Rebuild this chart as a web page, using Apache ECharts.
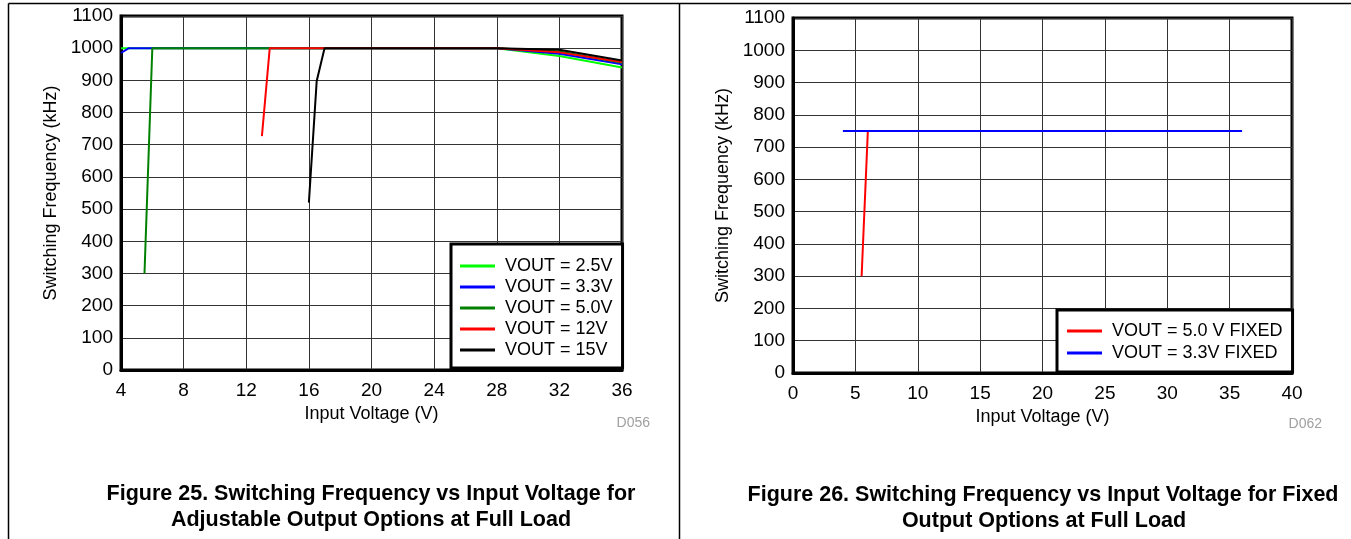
<!DOCTYPE html>
<html>
<head>
<meta charset="utf-8">
<script src="https://cdn.jsdelivr.net/npm/echarts@6/dist/echarts.min.js"></script>
<style>
  html, body { margin: 0; padding: 0; background: #fff; }
  #chart { width: 1351px; height: 539px; }
</style>
</head>
<body>
<div id="chart"></div>
<script>
// Figure 25 - adjustable outputs
const adjNames = ["VOUT = 2.5V", "VOUT = 3.3V", "VOUT = 5.0V", "VOUT = 12V", "VOUT = 15V"];
const adjColors = ["#00ff00", "#0000ff", "#008000", "#ff0000", "#000000"];
const vin2p5 = [4, 28, 32, 36];
const freq2p5 = [1000, 1000, 976, 940];
const vin3p3 = [4, 4.5, 28, 32, 36];
const freq3p3 = [985, 1000, 1000, 983, 950];
const vin5p0 = [5.5, 6, 28, 32, 36];
const freq5p0 = [300, 1000, 1000, 990, 955];
const vin12 = [13, 13.5, 28, 32, 36];
const freq12 = [727, 1000, 1000, 987, 957];
const vin15 = [16, 16.5, 17, 28, 32, 36];
const freq15 = [520, 898, 1000, 1000, 995, 962];

// Figure 26 - fixed outputs
const fixNames = ["VOUT = 5.0 V FIXED", "VOUT = 3.3V FIXED"];
const fixColors = ["#ff0000", "#0000ff"];
const vinFix5 = [5.5, 6];
const freqFix5 = [300, 750];
const vinFix3 = [4, 36];
const freqFix3 = [750, 750];

const pairs = (xs, ys) => xs.map((x, i) => [x, ys[i]]);

const font = "Liberation Sans, Arial, sans-serif";
const gridLine = { show: true, lineStyle: { color: "#333", width: 1 } };
const axLine = { show: true, onZero: false, lineStyle: { color: "#000", width: 3 } };
const plain = v => String(v);

function xAxis(idx, min, max, step) {
    return {
        gridIndex: idx, type: "value", min: min, max: max, interval: step,
        name: "Input Voltage (V)", nameLocation: "middle", nameGap: 34,
        nameTextStyle: { fontFamily: font, fontSize: 18, color: "#000" },
        axisLine: axLine, axisTick: { show: false },
        axisLabel: { fontFamily: font, fontSize: 19, color: "#000", margin: 11, formatter: plain },
        splitLine: gridLine
    };
}
function yAxis(idx) {
    return {
        gridIndex: idx, type: "value", min: 0, max: 1100, interval: 100,
        name: "Switching Frequency (kHz)", nameLocation: "middle", nameGap: 61,
        nameTextStyle: { fontFamily: font, fontSize: 18, color: "#000" },
        axisLine: axLine, axisTick: { show: false },
        axisLabel: { fontFamily: font, fontSize: 19, color: "#000", margin: 8, formatter: plain },
        splitLine: gridLine
    };
}
function line(name, color, idx, data) {
    return {
        name: name, type: "line", xAxisIndex: idx, yAxisIndex: idx,
        data: data, showSymbol: false, symbol: "none", animation: false,
        lineStyle: { color: color, width: 2 }, itemStyle: { color: color }
    };
}
function legend(names, left, top, pad, gap) {
    return {
        data: names.map(n => ({ name: n, icon: "rect" })),
        orient: "vertical", left: left, top: top, padding: pad, itemGap: gap,
        itemWidth: 35, itemHeight: 3,
        backgroundColor: "#fff", borderColor: "#000", borderWidth: 3, borderRadius: 0,
        textStyle: { fontFamily: font, fontSize: 18, color: "#000", padding: [0, 0, 0, 5] }
    };
}

const chart = echarts.init(document.getElementById("chart"), null, { renderer: "canvas" });
chart.setOption({
    animation: false,
    grid: [
        { left: 121, top: 16, width: 501, height: 354, show: true, borderColor: "#000", borderWidth: 3 },
        { left: 793, top: 18, width: 499, height: 355, show: true, borderColor: "#000", borderWidth: 3 }
    ],
    xAxis: [xAxis(0, 4, 36, 4), xAxis(1, 0, 40, 5)],
    yAxis: [yAxis(0), yAxis(1)],
    legend: [
        legend(adjNames, 451, 244, [13, 10, 9, 9], 3),
        legend(fixNames, 1057, 310, [12, 10, 10, 10], 4)
    ],
    series: [
        line(adjNames[0], adjColors[0], 0, pairs(vin2p5, freq2p5)),
        line(adjNames[1], adjColors[1], 0, pairs(vin3p3, freq3p3)),
        line(adjNames[2], adjColors[2], 0, pairs(vin5p0, freq5p0)),
        line(adjNames[3], adjColors[3], 0, pairs(vin12, freq12)),
        line(adjNames[4], adjColors[4], 0, pairs(vin15, freq15)),
        line(fixNames[0], fixColors[0], 1, pairs(vinFix5, freqFix5)),
        line(fixNames[1], fixColors[1], 1, pairs(vinFix3, freqFix3))
    ],
    graphic: [
        // panel frame
        { type: "line", shape: { x1: 8.5, y1: 3.5, x2: 1351, y2: 3.5 }, style: { stroke: "#000", lineWidth: 1.5 } },
        { type: "line", shape: { x1: 8.5, y1: 3.5, x2: 8.5, y2: 539 }, style: { stroke: "#000", lineWidth: 1.5 } },
        { type: "line", shape: { x1: 679.5, y1: 3.5, x2: 679.5, y2: 539 }, style: { stroke: "#000", lineWidth: 1.5 } },
        // figure ids
        { type: "text", style: { text: "D056", x: 650, y: 423, align: "right", verticalAlign: "middle", font: "14px " + font, fill: "#a0a0a0" } },
        { type: "text", style: { text: "D062", x: 1322, y: 424, align: "right", verticalAlign: "middle", font: "14px " + font, fill: "#a0a0a0" } },
        // captions
        { type: "text", style: { text: "Figure 25. Switching Frequency vs Input Voltage for", x: 371, y: 494, align: "center", verticalAlign: "middle", font: "bold 21.5px " + font, fill: "#000" } },
        { type: "text", style: { text: "Adjustable Output Options at Full Load", x: 371, y: 520, align: "center", verticalAlign: "middle", font: "bold 21.5px " + font, fill: "#000" } },
        { type: "text", style: { text: "Figure 26. Switching Frequency vs Input Voltage for Fixed", x: 1043, y: 495, align: "center", verticalAlign: "middle", font: "bold 21.5px " + font, fill: "#000" } },
        { type: "text", style: { text: "Output Options at Full Load", x: 1044, y: 521, align: "center", verticalAlign: "middle", font: "bold 21.5px " + font, fill: "#000" } }
    ]
});
</script>
</body>
</html>
